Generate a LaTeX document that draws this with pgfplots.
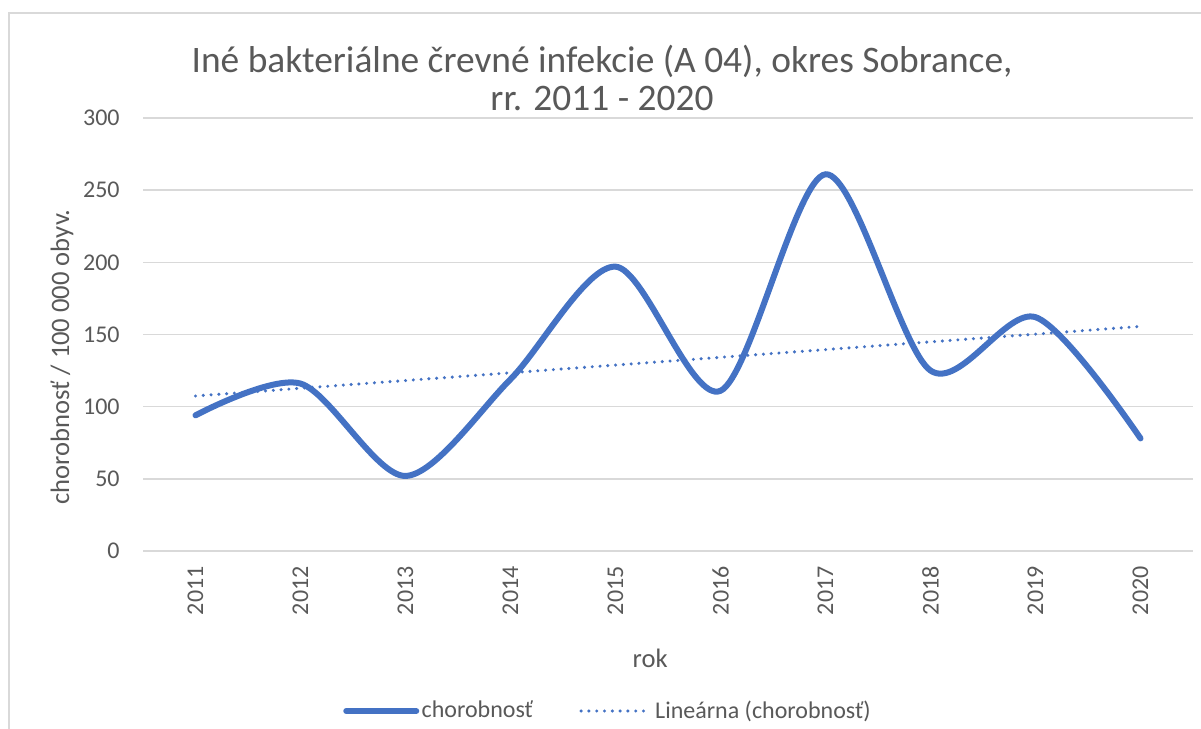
\documentclass[border=0pt]{standalone}
\usepackage{pgfplots}
\pgfplotsset{compat=1.18}
\usepackage{fontspec}
\setmainfont{Carlito}
\definecolor{txt}{RGB}{89,89,89}
\definecolor{gridc}{RGB}{217,217,217}
\definecolor{ser}{RGB}{68,114,196}
\begin{document}
\begin{tikzpicture}[x=0.5bp,y=0.5bp]
\useasboundingbox (0,0) rectangle (1201,728);
\fill[white] (0,0) rectangle (1201,728);
\draw[gridc, line width=0.9bp] (9,-5) -- (9,715) -- (1206,715);
\node[txt, font=\fontsize{18.7bp}{19bp}\selectfont, align=center] at (602,650)
  {Iné bakteriálne črevné infekcie (A 04), okres Sobrance,\\rr. 2011 - 2020};
\begin{axis}[
  at={(71.5bp,88.5bp)}, anchor=south west, scale only axis,
  width=525bp, height=216.5bp,
  xmin=-0.5, xmax=9.5, ymin=0, ymax=300,
  xtick={0,1,2,3,4,5,6,7,8,9},
  xticklabels={2011,2012,2013,2014,2015,2016,2017,2018,2019,2020},
  ytick={0,50,100,150,200,250,300},
  /pgf/number format/assume math mode=true,
  axis line style={draw=none},
  major tick length=0pt,
  ymajorgrids, grid style={gridc, line width=0.75bp},
  tick label style={txt, font=\fontsize{12bp}{14bp}\selectfont},
  xticklabel style={rotate=90, anchor=east, inner sep=0pt},
  yticklabel style={anchor=east, inner sep=0pt},
  xticklabel shift=7.5bp,
  yticklabel shift=11.5bp,
  xlabel={rok},
  ylabel={chorobnosť / 100 000 obyv.},
  label style={txt, font=\fontsize{13.3bp}{15bp}\selectfont},
  xlabel style={at={(rel axis cs:0.483,0)}, anchor=center, yshift=-53.5bp},
  ylabel style={at={(rel axis cs:0,0.448)}, anchor=center, yshift=40.5bp},
  legend columns=2,
  legend style={at={(rel axis cs:0.443,-0.3695)}, anchor=center, draw=none, fill=none,
    font=\fontsize{12bp}{14bp}\selectfont, text=txt,
    /tikz/every even column/.append style={column sep=22bp},
    nodes={inner sep=1.2bp}},
  legend cell align=left,
  legend image code/.code={\draw[#1] (0bp,0bp) -- (35bp,0bp);},
  clip=false,
]
\addplot[ser, line width=3bp, smooth, tension=0.5, line cap=round] coordinates {
  (0,94) (1,116) (2,52) (3,119) (4,197) (5,111) (6,261) (7,125) (8,162) (9,78)
};
\addlegendentry{chorobnosť}
\addplot[ser, line width=1.7bp, line cap=round, dash pattern=on 0bp off 3.9bp] coordinates {
  (0,107.4) (9,155.6)
};
\addlegendentry{Lineárna (chorobnosť)}
\end{axis}
\end{tikzpicture}
\end{document}
